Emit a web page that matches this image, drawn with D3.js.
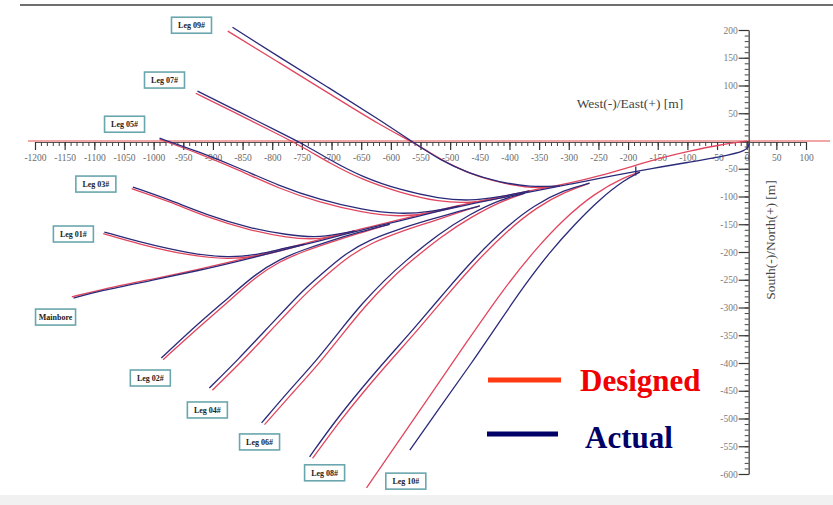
<!DOCTYPE html>
<html>
<head>
<meta charset="utf-8">
<script src="https://cdn.jsdelivr.net/npm/d3@7"></script>
<style>
  body { margin: 0; background: #fff; }
  svg { display: block; }
</style>
</head>
<body>
<div id="chart"></div>
<script>
// well names, top of the fan first
var wellNames = ['Leg 09#', 'Leg 07#', 'Leg 05#', 'Leg 03#', 'Leg 01#', 'Mainbore',
                 'Leg 02#', 'Leg 04#', 'Leg 06#', 'Leg 08#', 'Leg 10#'];

// trajectories as [East/West m, North/South m], from the kick-off point to the toe
var mainboreDesigned = [[0,0],[-46,-7],[-96,-18],[-147,-31],[-197,-47],[-248,-63],[-298,-76],[-349,-86],[-417,-101],[-467,-112],[-518,-124],[-585,-142],[-653,-159],[-720,-178],[-788,-196],[-855,-214],[-922,-231],[-1007,-250],[-1091,-268],[-1138,-281]];
var mainboreActual = [[4,-4],[2,-18],[-46,-29],[-96,-38],[-147,-47],[-187,-55],[-248,-67],[-298,-78],[-349,-88],[-417,-103],[-467,-114],[-518,-126],[-585,-144],[-653,-161],[-720,-180],[-788,-198],[-855,-216],[-922,-233],[-1007,-252],[-1091,-270],[-1135,-283]];

var leg09Designed = [[-315,-81],[-349,-86],[-400,-79],[-450,-66],[-501,-43],[-551,-9],[-619,29],[-703,85],[-788,141],[-875,198]];
var leg09Actual = [[-315,-81],[-366,-83],[-417,-74],[-467,-59],[-518,-34],[-560,-4],[-619,38],[-703,95],[-788,151],[-867,205]];

var leg07Designed = [[-366,-90],[-417,-104],[-467,-112],[-518,-110],[-585,-93],[-648,-70],[-703,-40],[-745,-13],[-788,11],[-855,47],[-929,86]];
var leg07Actual = [[-366,-90],[-417,-101],[-467,-108],[-518,-104],[-585,-88],[-648,-65],[-703,-34],[-745,-7],[-788,16],[-855,52],[-926,90]];

var leg05Designed = [[-484,-117],[-535,-131],[-585,-137],[-648,-129],[-720,-111],[-788,-86],[-855,-53],[-922,-23],[-990,3]];
var leg05Actual = [[-484,-117],[-535,-128],[-585,-132],[-648,-124],[-720,-106],[-788,-81],[-855,-49],[-922,-20],[-990,5]];

var leg03Designed = [[-661,-162],[-720,-179],[-776,-174],[-838,-161],[-911,-137],[-973,-109],[-1037,-86]];
var leg03Actual = [[-661,-162],[-720,-175],[-776,-169],[-838,-157],[-911,-133],[-973,-106],[-1035,-83]];

var leg01Designed = [[-745,-186],[-779,-196],[-821,-207],[-872,-214],[-944,-206],[-1024,-186],[-1085,-167]];
var leg01Actual = [[-745,-186],[-779,-193],[-821,-204],[-872,-211],[-944,-202],[-1024,-182],[-1083,-164]];

var leg02Designed = [[-602,-150],[-653,-166],[-703,-183],[-745,-198],[-788,-217],[-828,-245],[-869,-285],[-919,-331],[-984,-394]];
var leg02Actual = [[-602,-150],[-653,-164],[-703,-180],[-745,-195],[-788,-213],[-830,-241],[-872,-281],[-922,-326],[-987,-391]];

var leg04Designed = [[-450,-117],[-484,-128],[-533,-146],[-586,-164],[-631,-183],[-670,-207],[-698,-232],[-737,-268],[-766,-300],[-811,-351],[-850,-396],[-901,-449]];
var leg04Actual = [[-450,-117],[-484,-126],[-535,-142],[-590,-160],[-636,-178],[-675,-202],[-703,-227],[-742,-263],[-771,-295],[-816,-346],[-855,-391],[-906,-445]];

var leg06Designed = [[-374,-94],[-415,-109],[-463,-136],[-513,-170],[-575,-224],[-605,-254],[-643,-297],[-681,-347],[-720,-400],[-766,-454],[-813,-511]];
var leg06Actual = [[-374,-94],[-417,-106],[-467,-132],[-518,-166],[-580,-220],[-610,-250],[-648,-292],[-686,-342],[-725,-395],[-771,-449],[-818,-508]];

var leg08Designed = [[-265,-76],[-305,-91],[-354,-119],[-403,-161],[-454,-215],[-504,-276],[-555,-341],[-597,-391],[-644,-449],[-690,-510],[-732,-572]];
var leg08Actual = [[-265,-76],[-307,-88],[-358,-115],[-408,-157],[-459,-211],[-509,-272],[-560,-337],[-602,-387],[-649,-445],[-695,-506],[-737,-569]];

var leg10Designed = [[-180,-56],[-206,-65],[-256,-94],[-307,-139],[-357,-196],[-411,-268],[-472,-362],[-531,-454],[-589,-544],[-641,-625]];
var leg10Actual = [[-180,-56],[-206,-70],[-248,-105],[-290,-150],[-332,-200],[-374,-259],[-417,-326],[-467,-405],[-518,-481],[-568,-557]];

// survey marker on the mainbore
var markerPoints = [[-187,-55]];

var xTickValues = [-1200,-1150,-1100,-1050,-1000,-950,-900,-850,-800,-750,-700,-650,-600,-550,-500,-450,-400,-350,-300,-250,-200,-150,-100,-50,0,50,100];
var yTickValues = [200,150,100,50,-50,-100,-150,-200,-250,-300,-350,-400,-450,-500,-550,-600];

var legendLabels = ['Designed', 'Actual'];

// table the drawing code walks over
var wells = [
  { name: wellNames[0], designed: leg09Designed, actual: leg09Actual },
  { name: wellNames[1], designed: leg07Designed, actual: leg07Actual },
  { name: wellNames[2], designed: leg05Designed, actual: leg05Actual },
  { name: wellNames[3], designed: leg03Designed, actual: leg03Actual },
  { name: wellNames[4], designed: leg01Designed, actual: leg01Actual },
  { name: wellNames[5], designed: mainboreDesigned, actual: mainboreActual },
  { name: wellNames[6], designed: leg02Designed, actual: leg02Actual },
  { name: wellNames[7], designed: leg04Designed, actual: leg04Actual },
  { name: wellNames[8], designed: leg06Designed, actual: leg06Actual },
  { name: wellNames[9], designed: leg08Designed, actual: leg08Actual },
  { name: wellNames[10], designed: leg10Designed, actual: leg10Actual }
];

// pixel offset of each name box from the toe of the actual path
var labelOffsets = [[-41,-2],[-33,-11],[-35,-14],[-37,-3],[-31,2],[-18,19],[-11,20],[-2,22],[-2,19],[15,16],[-4,31]];

var width = 833;
var height = 505;
var designedColor = '#e2465e';
var actualColor = '#2a2a7a';
var serif = '"Liberation Serif", "DejaVu Serif", serif';

var svg = d3.select('#chart').append('svg')
  .attr('width', width)
  .attr('height', height);

svg.append('rect').attr('width', width).attr('height', height).attr('fill', '#fff');

// frame
svg.append('line').attr('x1', 20).attr('x2', 833).attr('y1', 5).attr('y2', 5)
  .attr('stroke', '#6f6f6f').attr('stroke-width', 2);
svg.append('rect').attr('x', 0).attr('y', 495).attr('width', width).attr('height', 10)
  .attr('fill', '#f1f1f1');

var x = d3.scaleLinear().domain([-1200, 100]).range([35, 806]);
var y = d3.scaleLinear().domain([-600, 200]).range([474, 30]);

// red zero line across the plot
svg.append('line')
  .attr('x1', 28).attr('x2', 830)
  .attr('y1', y(0)).attr('y2', y(0))
  .attr('stroke', '#ee8a8a').attr('stroke-width', 1.6);

// x axis: minor then major ticks
var xAxisY = y(0) + 1;
svg.append('g')
  .attr('transform', 'translate(0,' + xAxisY + ')')
  .call(d3.axisBottom(x).tickValues(d3.range(-1200, 101, 10)).tickSize(4).tickSizeOuter(0).tickFormat(''))
  .call(function (g) { g.select('.domain').attr('stroke', '#555'); g.selectAll('line').attr('stroke', '#444'); });

svg.append('g')
  .attr('transform', 'translate(0,' + xAxisY + ')')
  .call(d3.axisBottom(x).tickValues(xTickValues).tickSize(8).tickSizeOuter(0).tickPadding(4).tickFormat(function (d) { return String(d); }))
  .call(function (g) {
    g.select('.domain').remove();
    g.selectAll('line').attr('stroke', '#333').attr('stroke-width', 1.2);
    g.selectAll('text').attr('fill', '#6a6a6a').style('font-family', serif).style('font-size', '9.5px');
  });

// y axis
var yAxisX = x(0) + 2;
svg.append('g')
  .attr('transform', 'translate(' + yAxisX + ',0)')
  .call(d3.axisLeft(y).tickValues(d3.range(-600, 201, 10)).tickSize(4).tickSizeOuter(0).tickFormat(''))
  .call(function (g) { g.select('.domain').attr('stroke', '#444').attr('stroke-width', 1.3); g.selectAll('line').attr('stroke', '#444'); });

svg.append('g')
  .attr('transform', 'translate(' + yAxisX + ',0)')
  .call(d3.axisLeft(y).tickValues(yTickValues).tickSize(10).tickSizeOuter(0).tickPadding(1).tickFormat(function (d) { return String(d); }))
  .call(function (g) {
    g.select('.domain').remove();
    g.selectAll('line').attr('stroke', '#333').attr('stroke-width', 1.2);
    g.selectAll('text').attr('fill', '#7a7a7a').style('font-family', serif).style('font-size', '9.5px');
  });

// axis titles
svg.append('text')
  .attr('x', 630).attr('y', 108)
  .attr('text-anchor', 'middle')
  .style('font-family', serif).style('font-size', '13.5px').attr('fill', '#444')
  .text('West(-)/East(+) [m]');

svg.append('text')
  .attr('transform', 'translate(775,240) rotate(-90)')
  .attr('text-anchor', 'middle')
  .style('font-family', serif).style('font-size', '13.5px').attr('fill', '#444')
  .text('South(-)/North(+) [m]');

// trajectories
var line = d3.line()
  .x(function (d) { return x(d[0]); })
  .y(function (d) { return y(d[1]); })
  .curve(d3.curveBasis);

svg.append('g').selectAll('path')
  .data(wells).enter().append('path')
  .attr('d', function (d) { return line(d.designed); })
  .attr('fill', 'none')
  .attr('stroke', designedColor)
  .attr('stroke-width', 1.3);

svg.append('g').selectAll('path')
  .data(wells).enter().append('path')
  .attr('d', function (d) { return line(d.actual); })
  .attr('fill', 'none')
  .attr('stroke', actualColor)
  .attr('stroke-width', 1.3);

svg.append('g').selectAll('line')
  .data(markerPoints).enter().append('line')
  .attr('x1', function (d) { return x(d[0]); })
  .attr('x2', function (d) { return x(d[0]); })
  .attr('y1', function (d) { return y(d[1]) - 5; })
  .attr('y2', function (d) { return y(d[1]) + 4; })
  .attr('stroke', actualColor).attr('stroke-width', 1.3);

// name boxes at the toes
var boxes = svg.append('g').selectAll('g')
  .data(wells).enter().append('g')
  .attr('transform', function (d, i) {
    var toe = d.actual[d.actual.length - 1];
    return 'translate(' + (x(toe[0]) + labelOffsets[i][0]) + ',' + (y(toe[1]) + labelOffsets[i][1]) + ')';
  });

boxes.append('rect')
  .attr('x', -20).attr('y', -8)
  .attr('width', 40).attr('height', 16)
  .attr('fill', '#fff')
  .attr('stroke', '#6aa6ad').attr('stroke-width', 1.6);

boxes.append('text')
  .attr('text-anchor', 'middle')
  .attr('dy', '0.35em')
  .style('font-family', serif).style('font-size', '8px').style('font-weight', 'bold')
  .attr('fill', '#222')
  .text(function (d) { return d.name; });

// legend
var legend = svg.append('g');
var legendRows = [
  { label: legendLabels[0], color: '#ff3a12', textColor: '#f00000', lineX: [488, 561], lineY: 380, textX: 580, textY: 391 },
  { label: legendLabels[1], color: '#000066', textColor: '#000066', lineX: [487, 558], lineY: 434, textX: 585, textY: 448 }
];

legend.selectAll('line')
  .data(legendRows).enter().append('line')
  .attr('x1', function (d) { return d.lineX[0]; })
  .attr('x2', function (d) { return d.lineX[1]; })
  .attr('y1', function (d) { return d.lineY; })
  .attr('y2', function (d) { return d.lineY; })
  .attr('stroke', function (d) { return d.color; })
  .attr('stroke-width', 5);

legend.selectAll('text')
  .data(legendRows).enter().append('text')
  .attr('x', function (d) { return d.textX; })
  .attr('y', function (d) { return d.textY; })
  .style('font-family', serif).style('font-size', '31px').style('font-weight', 'bold')
  .attr('fill', function (d) { return d.textColor; })
  .text(function (d) { return d.label; });
</script>
</body>
</html>
